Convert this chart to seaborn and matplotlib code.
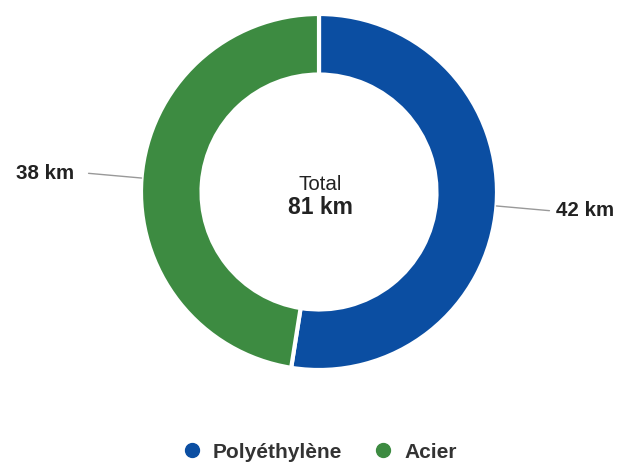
import numpy as np
import matplotlib
matplotlib.use("Agg")
import matplotlib.pyplot as plt
import seaborn as sns
from matplotlib.lines import Line2D

categories = ["Polyéthylène", "Acier"]
values = [42, 38]
labels = ["42 km", "38 km"]
total_label = "81 km"
colors = ["#0b4ea2", "#3d8b41"]

sns.set_theme(style="white")
plt.rcParams["font.family"] = ["Liberation Sans", "DejaVu Sans"]

W, H = 624, 468
fig = plt.figure(figsize=(W / 100, H / 100), dpi=100)
ax = fig.add_axes([0, 0, 1, 1])

cx, cy, R = 319, H - 192, 178
wedges, _ = ax.pie(values, colors=colors, startangle=90, counterclock=False,
                   center=(cx, cy), radius=R, frame=True,
                   wedgeprops=dict(width=R * 0.34, edgecolor="white", linewidth=3))
ax.set_xlim(0, W)
ax.set_ylim(0, H)
ax.set_aspect("equal")
ax.axis("off")

for w, lab in zip(wedges, labels):
    ang = np.deg2rad((w.theta1 + w.theta2) / 2)
    x0 = cx + R * np.cos(ang)
    y0 = cy + R * np.sin(ang)
    side = 1 if np.cos(ang) > 0 else -1
    x1 = x0 + side * 53
    y1 = y0 + np.sin(ang) * 60
    ax.plot([x0, x1], [y0, y1], color="#999999", lw=1)
    gap = 7 if side > 0 else 14
    ax.text(x1 + side * gap, y1, lab, ha="left" if side > 0 else "right",
            va="center", fontsize=14.8, fontweight="bold", color="#222222")

ax.text(cx + 1, cy + 8, "Total", ha="center", va="center", fontsize=14.8, color="#222222")
ax.text(cx + 1, cy - 15, total_label, ha="center", va="center", fontsize=16.5,
        fontweight="bold", color="#222222")

handles = [Line2D([0], [0], marker="o", linestyle="", markersize=10,
                  markerfacecolor=c, markeredgecolor=c) for c in colors]
fig.legend(handles, categories, loc="center", bbox_to_anchor=(319.3 / W, 1 - 452 / H),
           ncol=2, frameon=False, handlelength=1.0, handletextpad=0.5,
           columnspacing=1.47, borderpad=0.2,
           prop=dict(size=15, weight="bold"), labelcolor="#333333")

fig.savefig("out.png", dpi=100, facecolor="white")
